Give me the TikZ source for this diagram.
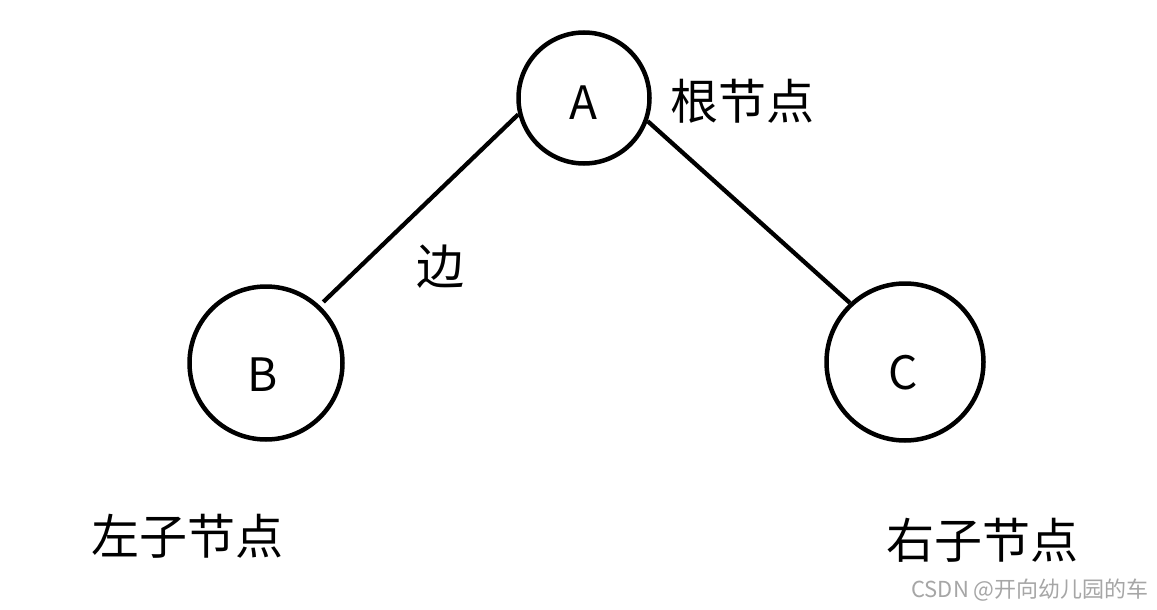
\documentclass[tikz,border=0pt]{standalone}
\usepackage{fontspec}
\setmainfont{Noto Sans CJK SC}
\begin{document}
\begin{tikzpicture}[x=1pt,y=-1pt,
  circ/.style={draw=black,line width=4.5pt,circle,inner sep=0pt},
  letter/.style={inner sep=0pt,font=\fontsize{46}{50}\selectfont},
  cjk/.style={inner sep=0pt,font=\fontsize{48}{52}\selectfont},
  link/.style={draw=black,line width=4.3pt},
  wmark/.style={inner sep=0pt,text=black!35,font=\fontsize{22}{24}\selectfont}]
\useasboundingbox[fill=white] (0,0) rectangle (1157,610);
\node[circ,minimum size=131pt] (A) at (584,98) {};
\node[circ,minimum size=153pt] (B) at (266,363) {};
\node[circ,minimum size=157pt] (C) at (905,362) {};
\node[letter] (Al) at (583,103) {A};
\node[letter] (Bl) at (263,375) {B};
\node[letter] (Cl) at (903,373) {C};
\draw[link,shorten >=5pt] (A.194) -- (B.47);
\draw[link] (A.-20) -- (C.133);
\node[cjk] (root) at (742,101) {根节点};
\node[cjk] (edgeL) at (440,267) {边};
\node[cjk] (left) at (187,536) {左子节点};
\node[cjk] (right) at (982,540) {右子节点};
\node[wmark] (wm) at (1030,590) {CSDN @开向幼儿园的车};
\end{tikzpicture}
\end{document}
